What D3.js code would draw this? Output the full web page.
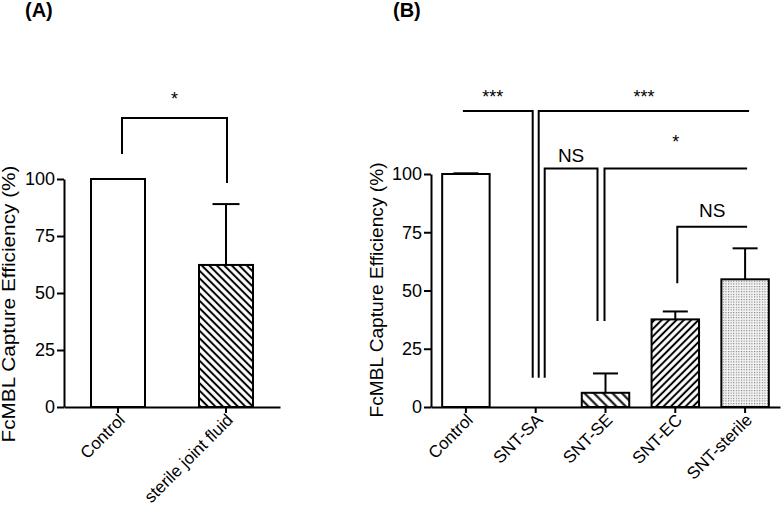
<!DOCTYPE html>
<html><head><meta charset="utf-8">
<script src="https://cdn.jsdelivr.net/npm/d3@7"></script>
<style>body{margin:0;background:#fff} text{font-family:"Liberation Sans",Arial,Helvetica,sans-serif;fill:#000}</style>
</head><body><svg id="c" width="781" height="507"></svg>
<script>
// ---------- data ----------
const categoriesA = ["Control", "sterile joint fluid"];
const valuesA = [100, 62.3];
const errorsA = [0, 26.7];          // upper SD
const categoriesB = ["Control", "SNT-SA", "SNT-SE", "SNT-EC", "SNT-sterile"];
const valuesB = [100, 0, 6.1, 37.6, 54.8];
const errorsB = [0.3, 0, 8.3, 3.4, 13.3];
const yTicks = [0, 25, 50, 75, 100];
const yLabel = "FcMBL Capture Efficiency (%)";
// significance brackets: level and leg ends in data units (null = no leg)
const bracketsA = [
  {from: "Control", to: "sterile joint fluid", level: 126.8, leftEnd: 111, rightEnd: 98.2, label: "*"}
];
const bracketsB = [
  {from: "Control", to: "SNT-SA", level: 127, leftEnd: null, rightEnd: 12.6, label: "***"},
  {from: "SNT-SA", to: "SNT-sterile", level: 127, leftEnd: 12.6, rightEnd: null, label: "***"},
  {from: "SNT-SA", to: "SNT-SE", level: 102.4, leftEnd: 12.6, rightEnd: 36.9, label: "NS"},
  {from: "SNT-SE", to: "SNT-sterile", level: 102.4, leftEnd: 36.9, rightEnd: null, label: "*"},
  {from: "SNT-EC", to: "SNT-sterile", level: 77.4, leftEnd: 53.1, rightEnd: null, label: "NS"}
];

// ---------- layout / style ----------
const svg = d3.select("#c");
const defs = svg.append("defs");
function hatch(id, size, angle) {
  const p = defs.append("pattern").attr("id", id).attr("patternUnits", "userSpaceOnUse")
    .attr("width", size).attr("height", size).attr("patternTransform", `rotate(${angle})`);
  p.append("rect").attr("width", size).attr("height", size).attr("fill", "#fff");
  p.append("line").attr("x1", size / 2).attr("x2", size / 2).attr("y1", 0).attr("y2", size)
    .attr("stroke", "#000").attr("stroke-width", 2);
}
hatch("hA", 5.3, -45);
hatch("hSE", 6.6, -45);
hatch("hEC", 5.2, 45);
const dp = defs.append("pattern").attr("id", "dots").attr("patternUnits", "userSpaceOnUse")
  .attr("width", 2.6).attr("height", 2.6);
dp.append("rect").attr("width", 2.6).attr("height", 2.6).attr("fill", "#f4f4f4");
dp.append("rect").attr("width", 1.1).attr("height", 1.1).attr("fill", "#777");

const fillsA = ["#fff", "url(#hA)"];
const fillsB = ["#fff", "#fff", "url(#hSE)", "url(#hEC)", "url(#dots)"];

const panelA = {cats: categoriesA, vals: valuesA, errs: errorsA, fills: fillsA, brackets: bracketsA,
  x0: 64, x1: 280, y0: 407, y100: 179, barFrac: 0.5, cap: 27, title: "(A)", titleX: 25,
  labelX: 15, labelY: 304, labelLen: 277,
  nudges: [[4, 1]], lift: [13]};
const panelB = {cats: categoriesB, vals: valuesB, errs: errorsB, fills: fillsB, brackets: bracketsB,
  x0: 431, x1: 780, y0: 407, y100: 174, barFrac: 0.68, cap: 25, title: "(B)", titleX: 393,
  labelX: 383, labelY: 290, labelLen: 255,
  nudges: [[-3, -3], [3, 4], [9, -8], [-1, 2], [2, 2]], lift: [8, 8, 6.6, 20, 9.4]};

function draw(P) {
  const g = svg.append("g");
  const x = d3.scaleBand().domain(P.cats).range([P.x0, P.x1]).padding(0);
  const y = d3.scaleLinear().domain([0, 100]).range([P.y0, P.y100]);
  const bw = x.bandwidth() * P.barFrac;
  const cx = c => x(c) + x.bandwidth() / 2;

  // error bars (upper only)
  P.cats.forEach((c, i) => {
    if (P.errs[i] <= 0) return;
    const top = y(P.vals[i] + P.errs[i]);
    g.append("line").attr("x1", cx(c)).attr("x2", cx(c)).attr("y1", y(P.vals[i])).attr("y2", top)
      .attr("stroke", "#000").attr("stroke-width", 2);
    g.append("line").attr("x1", cx(c) - P.cap / 2).attr("x2", cx(c) + P.cap / 2).attr("y1", top).attr("y2", top)
      .attr("stroke", "#000").attr("stroke-width", 2);
  });
  // bars
  g.selectAll("rect.bar").data(P.cats).enter().append("rect").attr("class", "bar")
    .attr("x", c => cx(c) - bw / 2).attr("width", bw)
    .attr("y", (c, i) => y(P.vals[i])).attr("height", (c, i) => y(0) - y(P.vals[i]))
    .attr("fill", (c, i) => P.fills[i]).attr("stroke", "#000").attr("stroke-width", 2);

  // axes
  const ya = g.append("g").attr("transform", `translate(${P.x0},0)`)
    .call(d3.axisLeft(y).tickValues(yTicks).tickSize(7).tickSizeOuter(0).tickPadding(2));
  const xa = g.append("g").attr("transform", `translate(0,${P.y0})`)
    .call(d3.axisBottom(x).tickSize(6).tickSizeOuter(0));
  [ya, xa].forEach(a => {
    a.select(".domain").attr("stroke-width", 2);
    a.selectAll(".tick line").attr("stroke-width", 2);
    a.selectAll("text").attr("fill", "#000");
  });
  ya.selectAll("text").style("font-size", "18px");
  xa.selectAll(".tick text").style("font-size", "17px").attr("y", 0).attr("x", 0).attr("dy", 0)
    .attr("text-anchor", "end").attr("transform", "translate(8,14) rotate(-45)");

  // y label
  g.append("text").attr("transform", `translate(${P.labelX},${P.labelY}) rotate(-90)`)
    .attr("text-anchor", "middle").style("font-size", "18px")
    .attr("textLength", P.labelLen).attr("lengthAdjust", "spacingAndGlyphs").text(yLabel);
  // title
  g.append("text").attr("x", P.titleX).attr("y", 17).style("font-size", "20px")
    .style("font-weight", "bold").text(P.title);

  // brackets
  P.brackets.forEach((b, i) => {
    const xl = cx(b.from) + P.nudges[i][0], xr = cx(b.to) + P.nudges[i][1];
    const yl = y(b.level);
    const pts = [];
    if (b.leftEnd !== null) pts.push([xl, y(b.leftEnd)]);
    pts.push([xl, yl], [xr, yl]);
    if (b.rightEnd !== null) pts.push([xr, y(b.rightEnd)]);
    g.append("path").attr("d", d3.line()(pts)).attr("fill", "none")
      .attr("stroke", "#000").attr("stroke-width", 2).attr("stroke-linejoin", "miter");
    g.append("text").attr("x", (xl + xr) / 2 + (i === 0 && P.title === "(B)" ? -5 : 0))
      .attr("y", yl - P.lift[i]).attr("text-anchor", "middle")
      .style("font-size", b.label === "NS" ? "19px" : "18px").text(b.label);
  });
}
draw(panelA);
draw(panelB);
</script></body></html>
